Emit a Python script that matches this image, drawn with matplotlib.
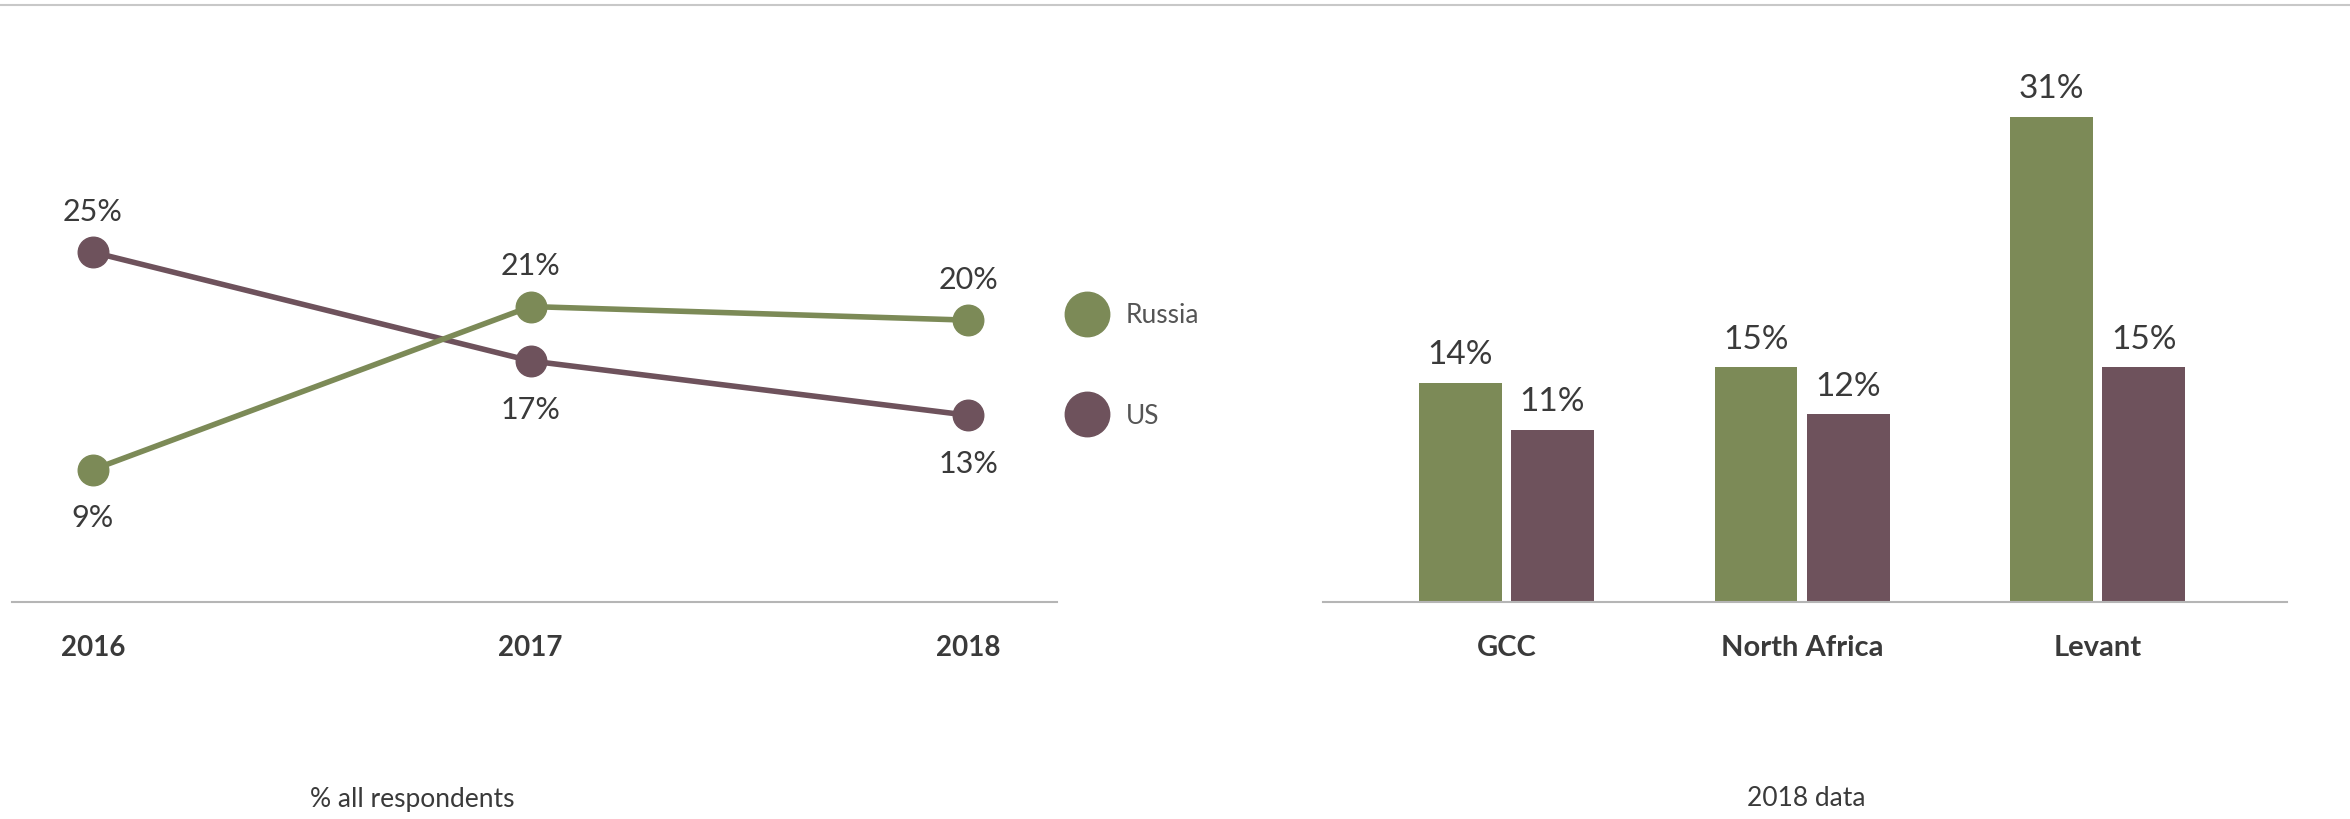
import numpy as np
import matplotlib
matplotlib.use("Agg")
import matplotlib.pyplot as plt
from matplotlib.lines import Line2D

# data
years = ["2016", "2017", "2018"]
russia_trend = [9, 21, 20]
us_trend = [25, 17, 13]

regions = ["GCC", "North Africa", "Levant"]
russia_2018 = [14, 15, 31]
us_2018 = [11, 12, 15]

GREEN = "#7c8a57"
PURPLE = "#6e525c"
TXT = "#3a3a3a"
AXC = "#b5b5b5"

plt.rcParams["font.family"] = ["Lato", "DejaVu Sans"]

W, H = 2350, 819
fig = plt.figure(figsize=(W / 100, H / 100), dpi=100)


def px_axes(x0, x1, ytop, ybot):
    # axes box given in pixel coords (origin top-left)
    return fig.add_axes([x0 / W, 1 - ybot / H, (x1 - x0) / W, (ybot - ytop) / H])


# thin rule across the top
fig.add_artist(Line2D([0, 1], [1 - 5 / H, 1 - 5 / H], color="#c8c8c8", lw=1.5))

########################################################################################################################
# left: line chart
########################################################################################################################
ax1 = px_axes(12, 1057, 100, 602)
x = np.arange(len(years))
ax1.plot(x, us_trend, color=PURPLE, lw=4, marker="o", ms=22, zorder=3, label="US")
ax1.plot(x, russia_trend, color=GREEN, lw=4, marker="o", ms=22, zorder=3, label="Russia")
ax1.set_xlim(-0.185, 2.203)
ax1.set_ylim(-0.74, 36.2)

# value labels: the higher series gets its label above the point
for i in range(len(years)):
    for vals, other in ((russia_trend, us_trend), (us_trend, russia_trend)):
        above = vals[i] >= other[i]
        ax1.annotate(f"{vals[i]}%", (x[i], vals[i]), xytext=(0, 29 if above else -35),
                     textcoords="offset points", ha="center", va="center",
                     fontsize=22, color=TXT)

ax1.set_xticks(x)
ax1.set_xticklabels(years, fontsize=20, fontweight="bold", color=TXT)
ax1.tick_params(axis="x", length=0, pad=24)
ax1.set_yticks([])
for s in ["top", "left", "right"]:
    ax1.spines[s].set_visible(False)
ax1.spines["bottom"].set_color(AXC)
ax1.spines["bottom"].set_linewidth(1.5)

handles = [Line2D([], [], marker="o", ls="", ms=32, color=GREEN),
           Line2D([], [], marker="o", ls="", ms=32, color=PURPLE)]
ax1.legend(handles, ["Russia", "US"], loc="center left", bbox_to_anchor=(0.991, 0.47),
           frameon=False, fontsize=19, labelcolor="#555555", labelspacing=2.85,
           handletextpad=0.85, handlelength=1.2)

fig.text(412 / W, 1 - 799 / H, "% all respondents", ha="center", va="center",
         fontsize=19, color=TXT)

########################################################################################################################
# right: grouped bars
########################################################################################################################
ax2 = px_axes(1323, 2287, 100, 602)
xb = np.arange(len(regions))
bw = 0.28
off = 0.156
b1 = ax2.bar(xb - off, russia_2018, bw, color=GREEN)
b2 = ax2.bar(xb + off, us_2018, bw, color=PURPLE)
for bars in (b1, b2):
    for r in bars:
        ax2.annotate(f"{r.get_height():.0f}%", (r.get_x() + r.get_width() / 2, r.get_height()),
                     xytext=(0, 20), textcoords="offset points", ha="center", va="center",
                     fontsize=24, color=TXT)

ax2.set_xlim(-0.62, 2.64)
ax2.set_ylim(0, 32.1)
ax2.set_xticks(xb)
ax2.set_xticklabels(regions, fontsize=21, fontweight="bold", color=TXT)
ax2.tick_params(axis="x", length=0, pad=24)
ax2.set_yticks([])
for s in ["top", "left", "right"]:
    ax2.spines[s].set_visible(False)
ax2.spines["bottom"].set_color(AXC)
ax2.spines["bottom"].set_linewidth(1.5)

fig.text(1806 / W, 1 - 799 / H, "2018 data", ha="center", va="center",
         fontsize=19, color=TXT)

fig.savefig("out.png", dpi=100, facecolor="white")
